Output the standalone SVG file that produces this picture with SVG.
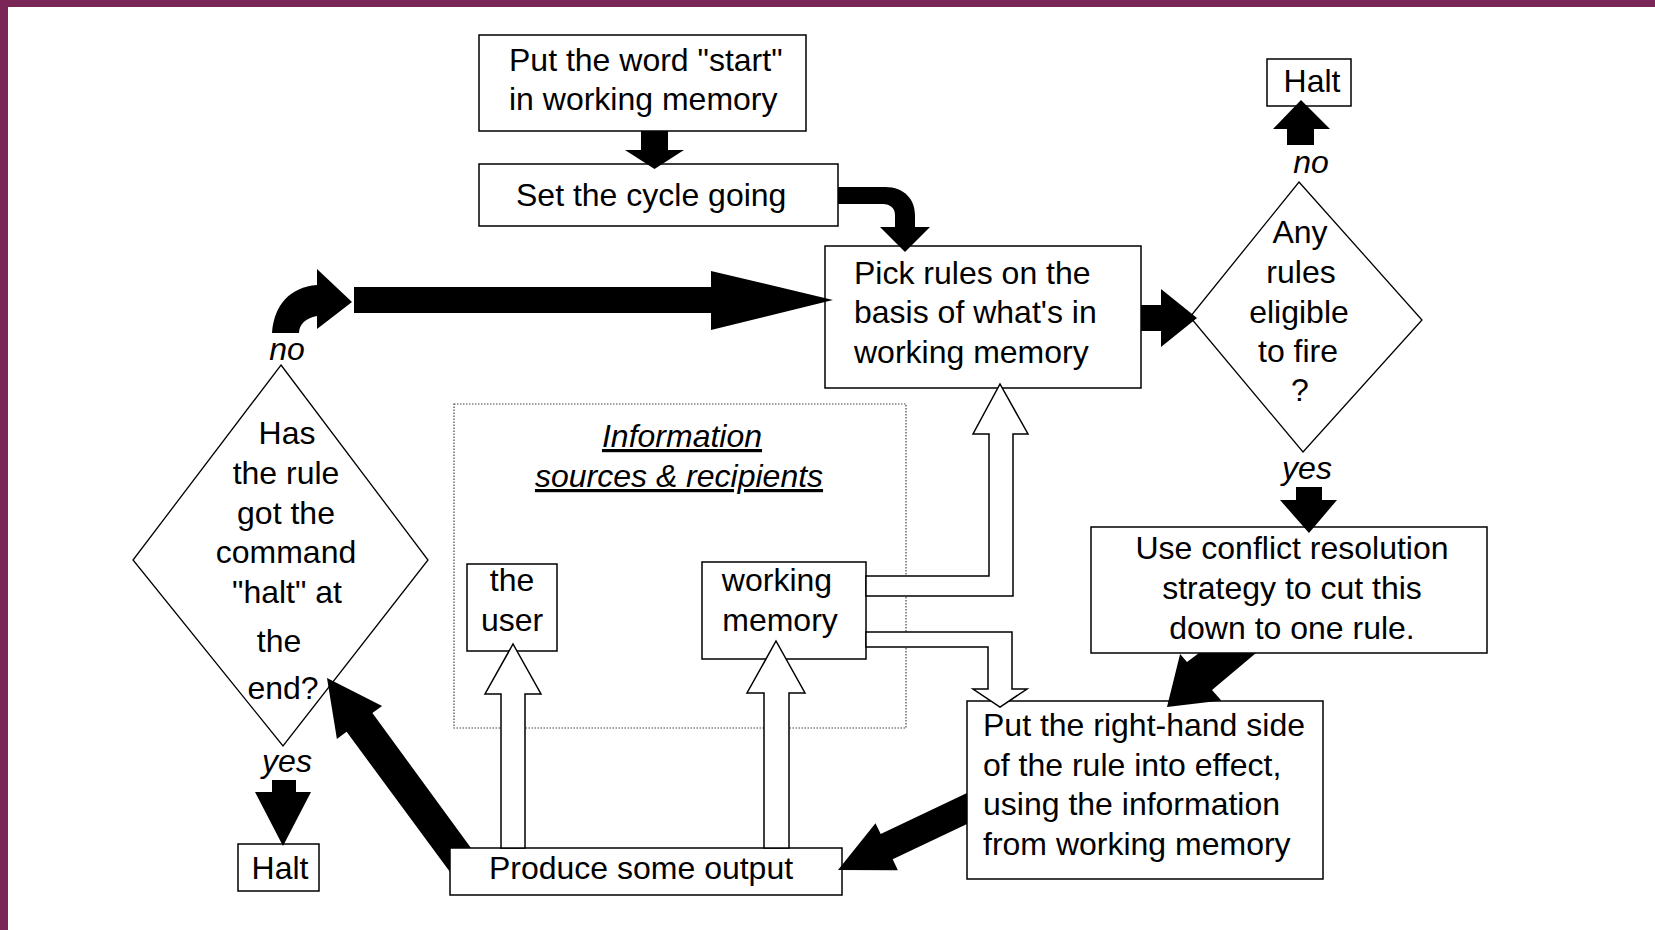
<svg xmlns="http://www.w3.org/2000/svg" width="1655" height="930" viewBox="0 0 1655 930">
<style>
.box{fill:#fff;stroke:#000;stroke-width:1.5}
.dia{fill:#fff;stroke:#000;stroke-width:1.3}
.dot{fill:none;stroke:#444;stroke-width:1.2;stroke-dasharray:1.5 1.5}
.t{font-family:"Liberation Sans",Arial,sans-serif;font-size:32px;fill:#000}
.i{font-style:italic}
.c{text-anchor:middle}
.u{text-decoration:underline}
.arr{fill:#000;stroke:none}
.hol{fill:#fff;stroke:#000;stroke-width:1.5;stroke-linejoin:miter}
</style>
<rect x="0" y="0" width="1655" height="930" fill="#fff"/>
<rect x="0" y="0" width="1655" height="7" fill="#7a2656"/>
<rect x="0" y="0" width="8" height="930" fill="#7a2656"/>

<g id="info-sources">
<rect class="dot" x="454" y="404" width="452" height="324"/>
<text class="t i c u" x="682" y="447">Information</text>
<text class="t i c u" x="679" y="487">sources &amp; recipients</text>
</g>

<g id="start">
<rect class="box" x="479" y="35" width="327" height="96"/>
<text class="t" x="509" y="71">Put the word "start"</text>
<text class="t" x="509" y="110">in working memory</text>
</g>
<g id="cycle">
<rect class="box" x="479" y="164" width="359" height="62"/>
<text class="t" x="516" y="206">Set the cycle going</text>
</g>
<g id="pick">
<rect class="box" x="825" y="246" width="316" height="142"/>
<text class="t" x="854" y="284">Pick rules on the</text>
<text class="t" x="854" y="323">basis of what's in</text>
<text class="t" x="854" y="363">working memory</text>
</g>
<g id="eligible">
<polygon class="dia" points="1299,182 1422,320 1303,452 1190,317"/>
<text class="t c" x="1300" y="243">Any</text>
<text class="t c" x="1301" y="283">rules</text>
<text class="t c" x="1299" y="323">eligible</text>
<text class="t c" x="1298" y="362">to fire</text>
<text class="t c" x="1300" y="401">?</text>
</g>
<g id="halt-top">
<rect class="box" x="1267" y="59" width="84" height="47"/>
<text class="t c" x="1312" y="92">Halt</text>
</g>
<g id="conflict">
<rect class="box" x="1091" y="527" width="396" height="126"/>
<text class="t c" x="1292" y="559">Use conflict resolution</text>
<text class="t c" x="1292" y="599">strategy to cut this</text>
<text class="t c" x="1292" y="639">down to one rule.</text>
</g>
<g id="rhs">
<rect class="box" x="967" y="701" width="356" height="178"/>
<text class="t" x="983" y="736">Put the right-hand side</text>
<text class="t" x="983" y="776">of the rule into effect,</text>
<text class="t" x="983" y="815">using the information</text>
<text class="t" x="983" y="855">from working memory</text>
</g>
<g id="produce">
<rect class="box" x="450" y="848" width="392" height="47"/>
<text class="t c" x="641" y="879">Produce some output</text>
</g>
<g id="halt-question">
<polygon class="dia" points="281,365 428,560 283,746 133,560"/>
<text class="t c" x="287" y="444">Has</text>
<text class="t c" x="286" y="484">the rule</text>
<text class="t c" x="286" y="524">got the</text>
<text class="t c" x="286" y="563">command</text>
<text class="t c" x="287" y="603">"halt" at</text>
<text class="t c" x="279" y="652">the</text>
<text class="t c" x="283" y="699">end?</text>
</g>
<g id="halt-bottom">
<rect class="box" x="238" y="844" width="81" height="47"/>
<text class="t c" x="280" y="879">Halt</text>
</g>
<g id="user">
<rect class="box" x="467" y="564" width="90" height="87"/>
<text class="t c" x="512" y="591">the</text>
<text class="t c" x="512" y="631">user</text>
</g>
<g id="wm">
<rect class="box" x="702" y="562" width="164" height="97"/>
<text class="t c" x="777" y="591">working</text>
<text class="t c" x="780" y="631">memory</text>
</g>

<g id="connectors">
<polygon class="arr" points="641,131 668,131 668,150 684,150 654.5,169 625,150 641,150"/>
<path class="arr" d="M838,187 L885,187 C905,187 915,200 915,215 L915,227 L930,227 L905,252 L880,227 L895,227 L895,215 C895,208 890,204 883,204 L838,204 Z"/>
<path class="arr" d="M272,333 C274,305 290,287 317,285 L317,269 L352,302 L317,329 L317,316 C305,318 299,325 299,333 Z"/>
<polygon class="arr" points="354,287 711,287 711,271 833,300 711,330 711,313 354,313"/>
<polygon class="arr" points="1141,305 1161,305 1161,289 1197,318 1161,347 1161,331 1141,331"/>
<polygon class="arr" points="1287,145 1287,129 1273,129 1301,100 1330,129 1314,129 1314,145"/>
<polygon class="arr" points="1296,487 1322,487 1322,500 1337,500 1309,533 1280,500 1296,500"/>
<polygon class="arr" points="1199,653 1256,653 1212,689.9 1221.3,700.4 1167,707 1180.1,654 1187,662"/>
<polygon class="arr" points="967,793 880.7,834.1 875.5,823.2 838,870 897.9,870.2 892.7,859.3 967,824"/>
<polygon class="arr" points="327,678 382.1,705.9 372.4,713 471,848 450,848 450,872 346.6,731.8 336.9,738.9"/>
<polygon class="arr" points="272,780 296,780 296,792 311,792 283,846 255,792 272,792"/>
<polygon class="hol" points="866,576 989,576 989,434 973,434 1000,384 1028,434 1013,434 1013,596 866,596"/>
<polygon class="hol" points="866,632 1012,632 1012,689 1027,689 1000,707 973,689 988,689 988,647 866,647"/>
<polygon class="hol" points="501,848 501,694 485,694 513,644 541,694 525,694 525,848"/>
<polygon class="hol" points="764,848 764,693 747,693 776,641 805,693 789,693 789,848"/>
<text class="t i c" x="287" y="360">no</text>
<text class="t i c" x="287" y="772">yes</text>
<text class="t i c" x="1311" y="173">no</text>
<text class="t i c" x="1307" y="479">yes</text>
</g>
</svg>
